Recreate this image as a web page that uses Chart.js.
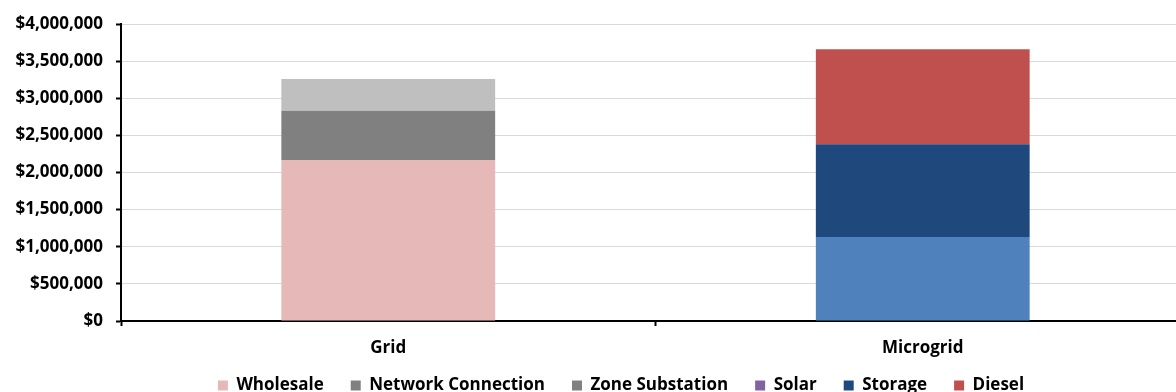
<!DOCTYPE html>
<html>
<head>
<meta charset="utf-8">
<script src="https://cdn.jsdelivr.net/npm/chart.js@4/dist/chart.umd.min.js"></script>
<style>
  html, body { margin: 0; padding: 0; background: #fff; overflow: hidden; }
  #wrap { width: 1242px; height: 392px; }
</style>
</head>
<body>
<div id="wrap"><canvas id="cost" width="1242" height="392"></canvas></div>
<script>
// Cost comparison: grid supply vs. microgrid (stacked, dollars)
const categories = ['Grid', 'Microgrid'];

const wholesale         = [2170000, 0];
const networkConnection = [660000, 0];
const zoneSubstation    = [430000, 0];
const solar             = [0, 1130000];
const storage           = [0, 1250000];
const diesel            = [0, 1280000];

const yTicks = [0, 500000, 1000000, 1500000, 2000000, 2500000, 3000000, 3500000, 4000000];

const FONT = '"Open Sans", "Liberation Sans", sans-serif';

// bar fill per category, and the swatch shown in the legend
const series = [
  { label: 'Wholesale',          data: wholesale,         fill: ['#E6B9B8', '#E6B9B8'], key: '#E6B9B8' },
  { label: 'Network Connection', data: networkConnection, fill: ['#808080', '#808080'], key: '#808080' },
  { label: 'Zone Substation',    data: zoneSubstation,    fill: ['#BFBFBF', '#BFBFBF'], key: '#808080' },
  { label: 'Solar',              data: solar,             fill: ['#4F81BD', '#4F81BD'], key: '#8064A2' },
  { label: 'Storage',            data: storage,           fill: ['#1F497D', '#1F497D'], key: '#1F497D' },
  { label: 'Diesel',             data: diesel,            fill: ['#C0504D', '#C0504D'], key: '#C0504D' }
];

const money = v => '$' + Number(v).toLocaleString('en-US');

// Let category labels draw below the (short) x-axis box, and centre the
// legend on a point to the right of the padded layout area's middle.
const LEGEND_SHIFT = 26;
const layoutTweaks = {
  id: 'layoutTweaks',
  afterLayout(chart) {
    chart.scales.x.bottom = chart.height;
    chart.legend.left += LEGEND_SHIFT;
    chart.legend.right += LEGEND_SHIFT;
  }
};

new Chart(document.getElementById('cost'), {
  type: 'bar',
  data: {
    labels: categories,
    datasets: series.map(s => ({
      label: s.label,
      data: s.data,
      backgroundColor: s.fill,
      borderWidth: 0,
      categoryPercentage: 1.0,
      barPercentage: 0.4
    }))
  },
  plugins: [layoutTweaks],
  options: {
    responsive: false,
    animation: false,
    layout: { padding: { top: 24, right: 52, left: 0, bottom: 0 } },
    plugins: {
      tooltip: { enabled: false },
      legend: {
        position: 'bottom',
        maxHeight: 42,
        labels: {
          boxWidth: 10,
          boxHeight: 10,
          padding: 27,
          color: '#000',
          font: { family: FONT, size: 17, weight: 'bold' },
          generateLabels: chart => series.map((s, i) => ({
            text: s.label,
            fillStyle: s.key,
            strokeStyle: s.key,
            lineWidth: 0,
            hidden: !chart.isDatasetVisible(i),
            datasetIndex: i
          }))
        }
      }
    },
    scales: {
      x: {
        stacked: true,
        offset: true,
        afterFit: scale => { scale.height = 29; },
        grid: {
          offset: true,
          drawOnChartArea: false,
          drawTicks: true,
          tickLength: 5,
          tickWidth: 2,
          tickColor: '#000'
        },
        border: { color: '#000', width: 2 },
        ticks: {
          color: '#000',
          padding: 12,
          font: { family: FONT, size: 17, weight: 'bold' }
        }
      },
      y: {
        stacked: true,
        min: 0,
        max: 4000000,
        afterBuildTicks: scale => { scale.ticks = yTicks.map(v => ({ value: v })); },
        afterFit: scale => { scale.width = 121; },
        grid: {
          color: '#D9D9D9',
          lineWidth: 1,
          drawTicks: true,
          tickLength: 5,
          tickWidth: 2,
          tickColor: '#000'
        },
        border: { color: '#000', width: 2 },
        ticks: {
          color: '#000',
          padding: 13,
          font: { family: FONT, size: 17, weight: 'bold' },
          callback: v => money(v)
        }
      }
    }
  }
});
</script>
</body>
</html>
